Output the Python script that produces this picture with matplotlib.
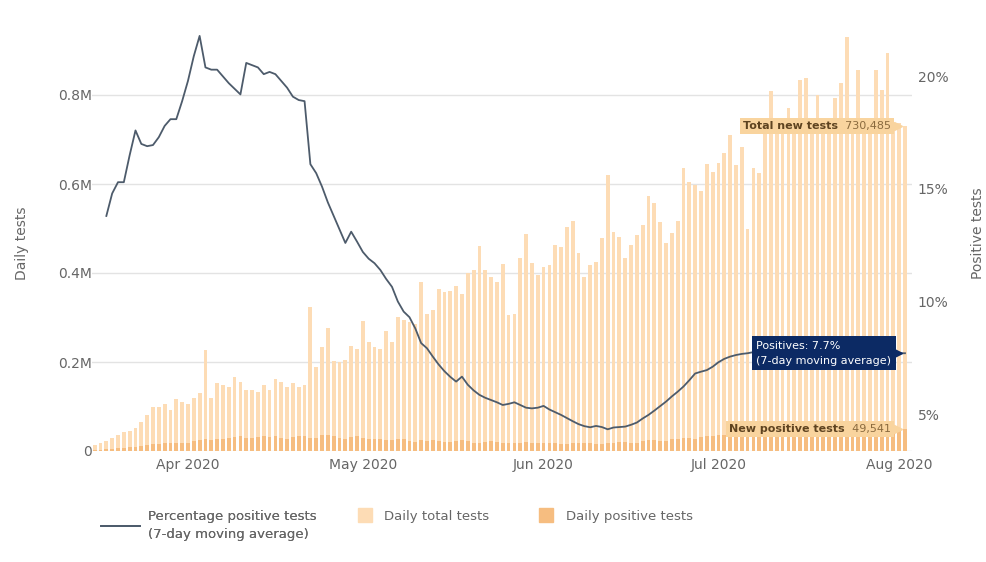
import numpy as np
import pandas as pd
import matplotlib
matplotlib.use("Agg")
import matplotlib.pyplot as plt
import matplotlib.dates as mdates
import matplotlib.transforms as mtransforms
from matplotlib.lines import Line2D
from matplotlib.ticker import FuncFormatter

# daily data, 16 Mar 2020 - 2 Aug 2020
dates = pd.date_range("2020-03-16", "2020-08-02")

# daily total tests (millions)
total_tests = [
    0.013, 0.018, 0.022, 0.030, 0.036, 0.042, 0.045, 0.052, 0.065, 0.080,
    0.098, 0.100, 0.105, 0.092, 0.117, 0.110, 0.106, 0.119, 0.130, 0.227,
    0.120, 0.153, 0.148, 0.144, 0.166, 0.155, 0.137, 0.137, 0.133, 0.148,
    0.137, 0.162, 0.155, 0.144, 0.153, 0.144, 0.148, 0.324, 0.189, 0.234,
    0.276, 0.202, 0.200, 0.204, 0.236, 0.229, 0.292, 0.245, 0.234, 0.229,
    0.270, 0.245, 0.301, 0.294, 0.290, 0.285, 0.380, 0.308, 0.317, 0.364,
    0.357, 0.360, 0.371, 0.353, 0.400, 0.407, 0.461, 0.407, 0.391, 0.380,
    0.420, 0.306, 0.308, 0.434, 0.488, 0.422, 0.396, 0.413, 0.418, 0.463,
    0.458, 0.503, 0.517, 0.445, 0.390, 0.418, 0.425, 0.479, 0.620, 0.492,
    0.481, 0.434, 0.463, 0.485, 0.508, 0.573, 0.557, 0.515, 0.467, 0.490,
    0.517, 0.636, 0.605, 0.598, 0.584, 0.645, 0.627, 0.647, 0.670, 0.710,
    0.643, 0.683, 0.500, 0.636, 0.625, 0.745, 0.810, 0.728, 0.735, 0.771,
    0.725, 0.834, 0.838, 0.732, 0.800, 0.722, 0.738, 0.793, 0.827, 0.930,
    0.728, 0.856, 0.740, 0.726, 0.856, 0.811, 0.894, 0.735, 0.738, 0.730485,
]

# daily positive tests (thousands)
positive_tests = [
    2, 3, 4, 5, 6, 7, 8, 9, 11, 13, 15, 16, 17, 18, 19, 19,
    19, 22, 24, 26, 25, 28, 27, 30, 32, 33, 30, 29, 31, 33, 32,
    34, 30, 28, 31, 33, 34, 30, 29, 35, 37, 33, 30, 28, 31, 34,
    30, 28, 26, 27, 25, 24, 28, 26, 22, 20, 24, 23, 25, 22, 20, 21,
    23, 24, 22, 19, 18, 20, 22, 21, 19, 18, 17, 19, 20, 18, 17,
    17, 18, 19, 16, 15, 17, 18, 19, 18, 16, 15, 17, 19, 20, 21,
    19, 18, 22, 24, 25, 23, 22, 26, 28, 30, 29, 27, 32, 34, 33,
    35, 36, 38, 34, 33, 39, 41, 42, 40, 38, 43, 45, 46, 44, 42, 47, 48,
    46, 44, 45, 49, 50, 47, 45, 48, 51, 49, 47, 46, 50, 52, 48, 49.541,
]

# percentage positive, 7-day moving average (from 18 Mar)
pct_positive = [
    13.8, 14.8, 15.3, 15.3, 16.5, 17.6, 17.0, 16.9, 16.95, 17.3,
    17.8, 18.1, 18.1, 18.9, 19.8, 20.9, 21.8, 20.4, 20.3, 20.3,
    20.0, 19.7, 19.45, 19.2, 20.6, 20.5, 20.4, 20.1, 20.2, 20.1,
    19.8, 19.5, 19.1, 18.95, 18.9, 16.1, 15.7, 15.1, 14.4, 13.8,
    13.2, 12.6, 13.1, 12.66, 12.2, 11.9, 11.7, 11.4, 11.0, 10.65,
    10.0, 9.55, 9.3, 8.8, 8.15, 7.92, 7.55, 7.2, 6.9, 6.65,
    6.44, 6.66, 6.3, 6.05, 5.85, 5.72, 5.62, 5.52, 5.4, 5.45,
    5.52, 5.4, 5.28, 5.25, 5.28, 5.36, 5.2, 5.08, 4.96, 4.82,
    4.68, 4.55, 4.46, 4.41, 4.47, 4.42, 4.32, 4.4, 4.42, 4.44,
    4.52, 4.62, 4.8, 4.96, 5.15, 5.35, 5.55, 5.78, 5.99, 6.22,
    6.5, 6.8, 6.88, 6.95, 7.1, 7.3, 7.45, 7.55, 7.62, 7.67,
    7.7, 7.75, 7.8, 7.85, 7.9, 7.95, 8.0, 7.95, 7.9, 7.85,
    7.8, 7.8, 7.75, 7.7, 7.7, 7.72, 7.75, 7.75, 7.72, 7.7,
    7.68, 7.66, 7.65, 7.66, 7.68, 7.7, 7.7, 7.7,
]

total_col = "#fddcb5"
pos_col = "#f6bd80"
line_col = "#4d5b6b"
tip_col = "#f9d49e"
navy = "#0c2a64"
txt_col = "#666666"

plt.rcParams["font.family"] = ["DejaVu Sans"]

tests = np.array(total_tests) * 1e6
pos = np.array(positive_tests) * 1e3

fig = plt.figure(figsize=(9.87, 5.62), dpi=100)
ax = fig.add_axes([92 / 987, 111 / 562, 820 / 987, 422.75 / 562])
ax2 = ax.twinx()

ax.bar(dates, tests, width=0.65, color=total_col, zorder=2)
ax.bar(dates, pos, width=0.65, color=pos_col, zorder=3)
ax2.plot(dates[2:], pct_positive, color=line_col, lw=1.3, zorder=4)

ax.set_ylim(0, 0.95e6)
ax2.set_ylim(3.356, 22.14)
ax.set_xlim(dates[0] - pd.Timedelta(days=0.46), dates[0] + pd.Timedelta(days=140.2))

ax.set_yticks([0, 0.2e6, 0.4e6, 0.6e6, 0.8e6])
ax.yaxis.set_major_formatter(FuncFormatter(lambda v, p: "0" if v == 0 else f"{v / 1e6:.1f}M"))
ax2.set_yticks([5, 10, 15, 20])
ax2.yaxis.set_major_formatter(FuncFormatter(lambda v, p: f"{v:.0f}%"))
ax.xaxis.set_major_locator(mdates.MonthLocator())
ax.xaxis.set_major_formatter(mdates.DateFormatter("%b %Y"))

ax.grid(axis="y", color="#e3e3e3", lw=1, zorder=0)
ax.set_axisbelow(True)
for a in (ax, ax2):
    for s in a.spines.values():
        s.set_visible(False)
    a.tick_params(length=0, labelsize=10, labelcolor=txt_col)
ax.tick_params(axis="y", pad=0)
ax.tick_params(axis="x", pad=5)
ax2.tick_params(axis="y", pad=4)

fig.text(22 / 987, 1 - 243 / 562, "Daily tests", rotation=90, ha="center", va="center",
         fontsize=10, color=txt_col)
fig.text(978 / 987, 1 - 233 / 562, "Positive tests", rotation=90, ha="center", va="center",
         fontsize=10, color=txt_col)


def tooltip(a, x, y, parts, fc):
    prev = None
    for txt, col, wt in reversed(parts):
        kw = dict(ha="right", va="center", fontsize=8, color=col, fontweight=wt, zorder=10,
                  bbox=dict(boxstyle="square,pad=0.3", fc=fc, ec="none"))
        if prev is None:
            prev = a.annotate(txt, xy=(x, y), xytext=(-10, 0), textcoords="offset points",
                              annotation_clip=False, **kw)
        else:
            prev = a.annotate(txt, xy=(0, 0.5), xycoords=prev, xytext=(0, 0),
                              textcoords="offset points", **kw)
    tr = mtransforms.offset_copy(a.transData, fig=fig, x=-5, y=0, units="points")
    a.plot([x], [y], marker=">", ms=6, color=fc, transform=tr, clip_on=False, zorder=10)


last = dates[-1]
tooltip(ax, last, tests[-1], [("Total new tests", "#5e4320", "bold"),
                              (": 730,485", "#8a6a3e", "normal")], tip_col)
tooltip(ax, last, pos[-1], [("New positive tests", "#5e4320", "bold"),
                            (": 49,541", "#8a6a3e", "normal")], tip_col)
ax2.annotate("Positives: 7.7%\n(7-day moving average)", xy=(last, pct_positive[-1]),
             xytext=(-10, 0), textcoords="offset points", ha="right", va="center",
             multialignment="left", fontsize=8, color="white", zorder=10,
             annotation_clip=False, linespacing=1.6,
             bbox=dict(boxstyle="square,pad=0.4", fc=navy, ec="none"))
tr2 = mtransforms.offset_copy(ax2.transData, fig=fig, x=-5, y=0, units="points")
ax2.plot([last], [pct_positive[-1]], marker=">", ms=6, color=navy, transform=tr2,
         clip_on=False, zorder=10)

leg1 = fig.legend([Line2D([], [], color=line_col, lw=1.3)],
                  ["Percentage positive tests\n(7-day moving average)"],
                  loc="upper left", bbox_to_anchor=(89 / 987, 1 - 498 / 562),
                  frameon=False, fontsize=9.5, handlelength=3, handletextpad=0.6,
                  labelcolor=txt_col)
leg1.get_texts()[0].set_linespacing(1.55)
fig.add_artist(leg1)
fig.legend([Line2D([], [], ls="", marker="s", ms=10, color=total_col),
            Line2D([], [], ls="", marker="s", ms=10, color=pos_col)],
           ["Daily total tests", "Daily positive tests"],
           loc="upper left", bbox_to_anchor=(343 / 987, 1 - 498 / 562), ncol=2,
           frameon=False, fontsize=9.5, handlelength=1.5, handletextpad=0.7,
           columnspacing=3.6, labelcolor=txt_col)

fig.savefig("out.png", dpi=100)
